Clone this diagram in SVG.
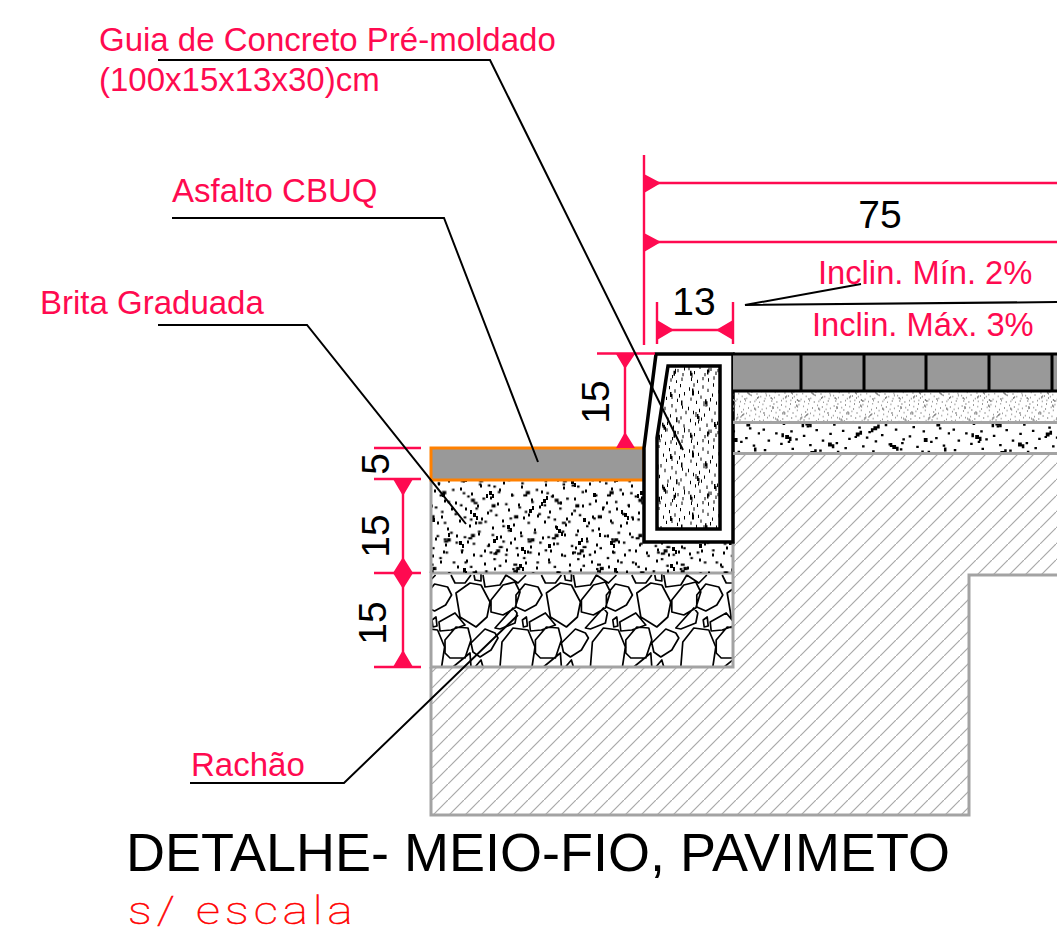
<svg xmlns="http://www.w3.org/2000/svg" width="1057" height="934" viewBox="0 0 1057 934">
<style>
text{font-family:"Liberation Sans",Arial,sans-serif}
.lb{fill:#ff0a50;font-size:33px}
.lc{fill:#ff0a50;font-size:32.700px}
.dim{fill:#000;font-size:39px}
.rd{stroke:#ff0a50;stroke-width:2.400;fill:none}
.ar{fill:#ff0a50}
.gr{stroke:#a3a3a3;stroke-width:3;fill:none}
.ld{stroke:#000;stroke-width:2;fill:none}
.st{fill:none;stroke:#000;stroke-width:1.700;stroke-linejoin:round}
</style>
<defs>
<path id="ds" d="M4 9h2M13 3h2M22 14h2M31 6h2M41 11h2M52 3h2M63 13h2M72 5h2M83 10h2M95 2h2M104 15h2M116 7h2M127 12h2M138 4h2M146 16h2M7 24h2M18 29h2M27 21h2M37 33h2M46 25h2M58 30h2M68 22h2M78 35h2M88 27h2M99 31h2M110 23h2M121 34h2M132 26h2M142 36h2M2 38h2M12 44h2M24 41h2M34 48h2M44 39h2M55 45h2M65 40h2M75 50h2M86 42h2M96 47h2M107 38h2M118 49h2M129 41h2M139 52h2M149 44h2M6 56h2M16 61h2M28 54h2M39 63h2M49 56h2M60 60h2M70 53h2M81 65h2M91 57h2M102 62h2M113 54h2M124 66h2M135 58h2M145 64h2M3 71h2M14 77h2M25 69h2M35 80h2M47 72h2M57 78h2M67 68h2M77 82h2M89 73h2M100 79h2M111 70h2M122 83h2M133 74h2M143 80h2M8 87h2M20 90h2M31 86h2M42 88h2M53 85h2M64 90h2M74 87h2M85 89h2M97 86h2M108 90h2M119 88h2M130 91h2M141 87h2M10 16h2M50 18h2M92 20h2M136 19h2M22 58h2M84 51h2M112 60h2M61 74h2"/>
<path id="dl" d="M10 12h3M12 15h2M36 28h3M39 31h2M33 31h2M66 8h3M69 11h2M90 36h3M93 33h2M88 39h2M118 17h3M121 20h2M140 30h3M20 50h3M23 53h2M17 47h2M54 62h3M57 65h2M76 46h3M79 43h2M105 66h3M108 69h2M103 63h2M130 55h3M6 78h3M9 81h2M40 76h3M43 73h2M68 84h3M71 87h2M95 81h3M125 78h3M128 75h2M146 70h2"/>
<pattern id="pk" width="151" height="93" patternUnits="userSpaceOnUse"><use href="#ds" stroke="#000" stroke-width="3"/><use href="#dl" stroke="#000" stroke-width="4.200"/></pattern>
<pattern id="pk2" width="151" height="93" patternUnits="userSpaceOnUse" patternTransform="translate(41 29) rotate(90) scale(1.100 .9)"><use href="#ds" stroke="#000" stroke-width="2.800"/><use href="#dl" stroke="#000" stroke-width="4.500"/></pattern>
<pattern id="pc" width="76" height="62" patternUnits="userSpaceOnUse" patternTransform="translate(3 11)"><use href="#ds" stroke="#000" stroke-width="5" transform="scale(.5 .67)"/><use href="#dl" stroke="#000" stroke-width="7.500" transform="scale(.5 .67)"/></pattern>
<pattern id="pb" width="190" height="58" patternUnits="userSpaceOnUse"><use href="#ds" stroke="#000" stroke-width="3.600" transform="scale(1.260 .62)"/><use href="#dl" stroke="#000" stroke-width="6.500" transform="scale(1.260 .62)"/></pattern>
<pattern id="pg" width="64" height="31" patternUnits="userSpaceOnUse"><use href="#ds" stroke="#8a8a8a" stroke-width="5.500" transform="scale(.424 .333)"/><use href="#dl" stroke="#8a8a8a" stroke-width="6.500" transform="scale(.424 .333)"/></pattern>
<pattern id="hatch" width="16" height="16" patternUnits="userSpaceOnUse"><path d="M-2 18L18 -2" stroke="#a8a8a8" stroke-width="1.200"/></pattern>
<g id="tile"><path class="st" d="M25 20L39 10L50 12L59 29L56 44L45 54L29 44ZM85 22L94 11L107 14L111 22L105 32L94 38L85 34ZM60 27L72 12L84 9L89 19L84 35L72 42L60 39ZM64 55L82 35L86 40L84 50L69 56ZM8 49L24 40L34 52L20 57L9 58ZM1 47L5 44L6 53L2 54ZM14 67L25 54L37 55L40 67L34 85L19 85L14 80ZM40 70L54 56L64 60L67 65L60 77L49 84L42 79ZM71 69L82 55L97 57L104 74L101 94L69 94ZM20 2L24 10L34 10L40 2M43 2L44 7L50 8L50 1M52 2L54 14L69 12L75 2L87 10L95 2M22 94L39 80L40 94M44 94L50 87L52 94"/></g>
<clipPath id="cs"><rect x="431" y="573" width="302" height="94"/></clipPath>
</defs>
<rect width="1057" height="934" fill="#fff"/>

<g id="terreno">
<path d="M431 667H733V453H1057V575H969V815H431Z" fill="url(#hatch)"/>
<path class="gr" d="M431 667V815H969V575H1057"/>
</g>

<g id="rachao">
<rect x="431" y="573" width="302" height="94" fill="#fff"/>
<g clip-path="url(#cs)">
<use href="#tile" x="340.600" y="573"/><use href="#tile" x="431" y="573"/><use href="#tile" x="521.400" y="573"/><use href="#tile" x="611.800" y="573"/><use href="#tile" x="702.200" y="573"/>
</g>
<rect class="gr" x="431" y="573" width="302" height="94"/>
</g>

<g id="brita-graduada">
<rect x="431" y="480" width="302" height="93" fill="url(#pk)"/>
<rect x="431" y="480" width="302" height="93" fill="url(#pk2)"/>
<path class="gr" d="M431 480V573M733 542V573"/>
</g>

<g id="asfalto">
<rect x="431" y="448" width="213" height="32" fill="#999" stroke="#ff8000" stroke-width="3"/>
</g>

<g id="guia">
<path d="M656 354H733V542H644V448Z" fill="#fff" stroke="#000" stroke-width="3.500"/>
<path d="M668 366H720V529H657V438Z" fill="#fff"/>
<path d="M668 366H720V529H657V438Z" fill="url(#pc)"/>
<path d="M668 366H720V529H657V438Z" fill="none" stroke="#000" stroke-width="3.500"/>
</g>

<g id="pavimento">
<rect x="733" y="392" width="324" height="30" fill="url(#pg)"/>
<rect x="733" y="424" width="324" height="29" fill="url(#pb)"/>
<path class="gr" d="M733 422.500H1057M733 453.500H1057"/>
<rect x="733" y="354" width="324" height="37" fill="#999"/>
<path d="M733 354H1057M733 391H1057M801 354V391M864 354V391M926 354V391M989 354V391M1052 354V391" stroke="#000" stroke-width="3" fill="none"/>
</g>

<g id="cotas">
<path class="rd" d="M644 155V345M644 183H1057M644 242H1057"/>
<path class="ar" d="M644 174L661 183L644 193ZM644 233L661 242L644 252Z"/>
<path class="rd" d="M657 302V344M733 302V344M657 330H733"/>
<path class="ar" d="M657 320L674 330L657 340ZM733 320L716 330L733 340Z"/>
<path class="rd" d="M597 353.500H655M625 353V448"/>
<path class="ar" d="M616 354H635L625 369ZM616 448H635L625 432Z"/>
<path class="rd" d="M374 448H421M374 479H421M374 573H421M374 667H421M403 479V667"/>
<path class="ar" d="M393 479H413L403 496ZM403 557L413 573L403 589L393 573ZM393 667H413L403 650Z"/>
<text class="dim" x="880" y="228" text-anchor="middle">75</text>
<text class="dim" x="694" y="315" text-anchor="middle">13</text>
<text class="dim" transform="translate(609 402) rotate(-90)" text-anchor="middle">15</text>
<text class="dim" transform="translate(389 464) rotate(-90)" text-anchor="middle">5</text>
<text class="dim" transform="translate(389 536) rotate(-90)" text-anchor="middle">15</text>
<text class="dim" transform="translate(386 623) rotate(-90)" text-anchor="middle">15</text>
</g>

<g id="connectors">
<path class="ld" d="M158 60H490L683 450"/>
<path class="ld" d="M172 218H444L538 462"/>
<path class="ld" d="M158 325H307L466 524"/>
<path class="ld" d="M190 783H344L518 615"/>
<path class="ld" d="M861 284L745 305L1057 302"/>
</g>

<g id="rotulos">
<text class="lb" x="99" y="51">Guia de Concreto Pré-moldado</text>
<text class="lb" x="99" y="91">(100x15x13x30)cm</text>
<text class="lb" x="172" y="202">Asfalto CBUQ</text>
<text class="lb" x="40" y="314">Brita Graduada</text>
<text class="lb" x="191" y="776">Rachão</text>
<text class="lc" x="818" y="284">Inclin. Mín. 2%</text>
<text class="lc" x="812" y="336">Inclin. Máx. 3%</text>
</g>

<g id="titulo">
<text x="126" y="871" font-size="54">DETALHE- MEIO-FIO, PAVIMETO</text>
<text transform="translate(128 924) scale(1.250 1)" font-size="38" fill="#f00" stroke="#f00" stroke-width=".5" letter-spacing="4" style="font-family:Roboto,sans-serif;font-weight:100">s/ escala</text>
</g>
</svg>
